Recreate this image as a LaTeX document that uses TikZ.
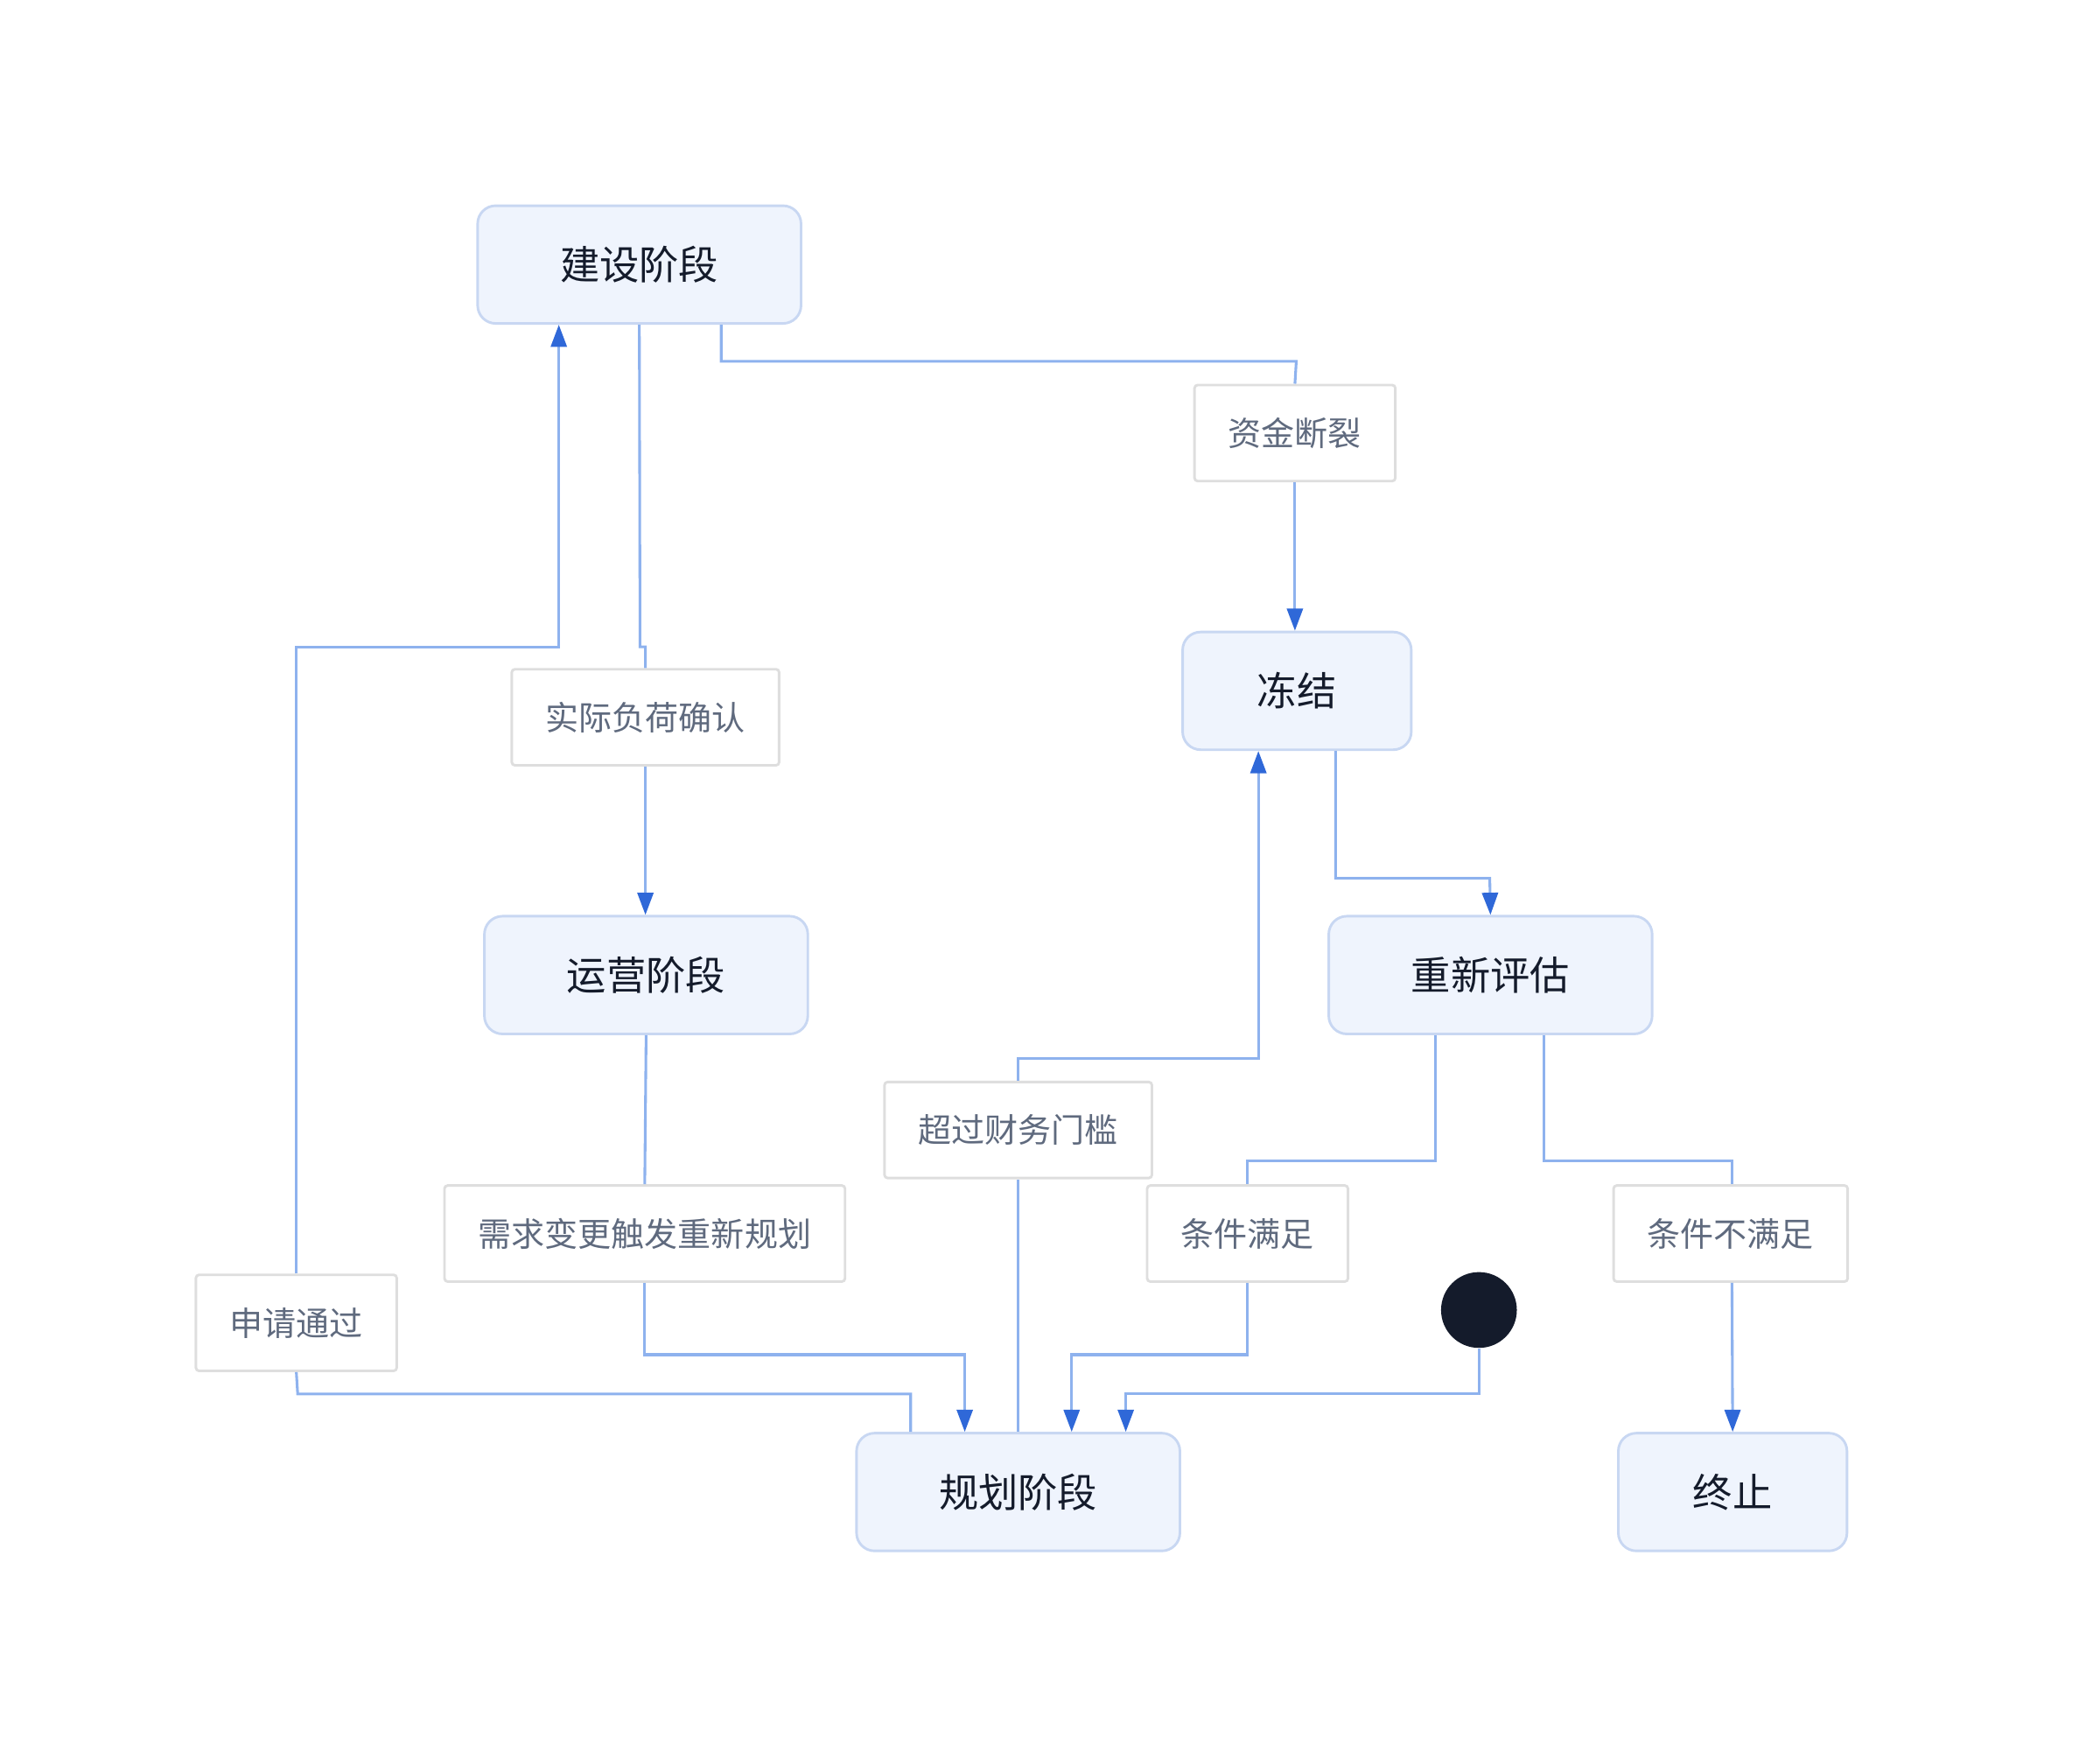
\documentclass[tikz,border=0pt]{standalone}
\usepackage{fontspec}
\setmainfont{Noto Sans CJK SC}
\usepackage{tikz}
\usetikzlibrary{arrows.meta}

\definecolor{stfill}{HTML}{EFF4FD}
\definecolor{stdraw}{HTML}{C8D7F2}
\definecolor{sttext}{HTML}{141B2B}
\definecolor{lbdraw}{HTML}{DEDEDE}
\definecolor{lbtext}{HTML}{5F6A7E}
\definecolor{edgeline}{HTML}{8EB2EE}
\definecolor{edgetip}{HTML}{2F68D8}

\tikzset{
  state/.style={draw=stdraw, fill=stfill, line width=1.6pt, rounded corners=0.4cm,
    minimum width=7.17cm, minimum height=2.61cm, text=sttext, font=\fontsize{25}{30}\selectfont},
  small state/.style={state, minimum width=5.07cm},
  label/.style={draw=lbdraw, fill=white, line width=1.6pt, rounded corners=2pt,
    minimum height=2.13cm, inner xsep=0.75cm, text=lbtext, font=\fontsize{21}{25}\selectfont},
  edge/.style={draw=edgeline, line width=1.7pt,
    -{Triangle[length=14pt, width=10pt, color=edgetip]}},
  link/.style={draw=edgeline, line width=1.7pt}
}

\begin{document}
\begin{tikzpicture}[x=0.03cm, y=-0.03cm]
    \useasboundingbox (0,0) rectangle (1552,1284);

    % states
    \node[state] (jianshe) at (472.5,195.5) {建设阶段};
    \node[small state] (dongjie) at (958.5,510.5) {冻结};
    \node[state] (yunying) at (477.5,720.5) {运营阶段};
    \node[state] (pinggu) at (1101.5,720.5) {重新评估};
    \node[state] (guihua) at (752.5,1102.5) {规划阶段};
    \node[small state] (zhongzhi) at (1280.5,1102.5) {终止};
    \node[circle, fill=sttext, minimum size=1.68cm, inner sep=0pt] (start) at (1093,968) {};

    % transition labels
    \node[label] (zijin) at (957,320) {资金断裂};
    \node[label] (fuhe) at (477,530) {实际负荷确认};
    \node[label] (caiwu) at (752.5,835) {超过财务门槛};
    \node[label] (xuqiu) at (476.5,911.5) {需求变更触发重新规划};
    \node[label] (manzu) at (922,911.5) {条件满足};
    \node[label] (bumanzu) at (1279,911.5) {条件不满足};
    \node[label] (shenqing) at (219,977.5) {申请通过};

    % transitions
    \draw[link] (jianshe.south -| 533,0) |- (958,267) -- (zijin.north);
    \draw[edge] (zijin.south) -- (dongjie.north -| zijin.south);

    \draw[link] (jianshe.south) -- (473,478) -- (477,478) -- (fuhe.north);
    \draw[edge] (fuhe.south) -- (yunying.north -| fuhe.south);

    \draw[link] (guihua.north -| 673,0) |- (220,1030) -- (shenqing.south);
    \draw[edge] (shenqing.north) |- (413,478) -- (jianshe.south -| 413,0);

    \draw[link] (yunying.south) -- (xuqiu.north);
    \draw[edge] (xuqiu.south) |- (713,1001) -- (guihua.north -| 713,0);

    \draw[link] (guihua.north) -- (caiwu.south);
    \draw[edge] (caiwu.north) |- (930,782) -- (dongjie.south -| 930,0);

    \draw[edge] (dongjie.south -| 987,0) |- (1101,649) -- (pinggu.north);

    \draw[link] (pinggu.south -| 1061,0) |- (922,858) -- (manzu.north);
    \draw[edge] (manzu.south) |- (792,1001) -- (guihua.north -| 792,0);

    \draw[link] (pinggu.south -| 1141,0) |- (1280,858) -- (bumanzu.north -| 1280,0);
    \draw[edge] (bumanzu.south -| 1280,0) -- (zhongzhi.north);

    \draw[edge] (start.south) |- (832,1030) -- (guihua.north -| 832,0);
\end{tikzpicture}
\end{document}
